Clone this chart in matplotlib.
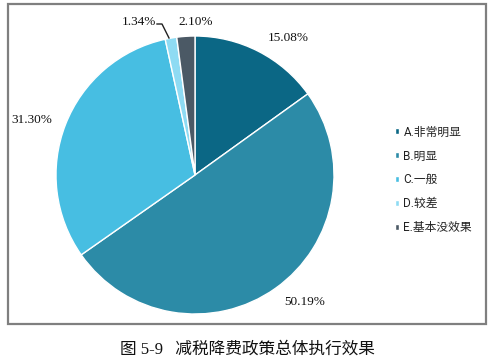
import matplotlib
matplotlib.use("Agg")
import matplotlib.pyplot as plt
from matplotlib.patches import Rectangle

categories = ["A.非常明显", "B.明显", "C.一般", "D.较差", "E.基本没效果"]
values = [15.08, 50.19, 31.30, 1.34, 2.10]
pct_labels = ["15.08%", "50.19%", "31.30%", "1.34%", "2.10%"]
colors = ["#0b6785", "#2c8ba7", "#47bee2", "#8edbf3", "#4b5965"]
caption = "图 5-9   减税降费政策总体执行效果"

W, H = 496, 362
fig = plt.figure(figsize=(W / 100, H / 100), dpi=100)
ax = fig.add_axes([0, 0, 1, 1])
ax.set_xlim(0, W)
ax.set_ylim(0, H)
ax.set_aspect("equal")
ax.axis("off")

def Y(y):
    return H - y

# frame
ax.add_patch(Rectangle((7.5, Y(323.5)), 478.5, 319.5, fill=False,
                       edgecolor="#7f7f7f", linewidth=1.6))

cx, cy, r = 195, Y(175), 139
wedges, _ = ax.pie(values, colors=colors, startangle=90, counterclock=False,
                   center=(cx, cy), radius=r, frame=True,
                   wedgeprops=dict(edgecolor="white", linewidth=1.0))
ax.set_xlim(0, W)
ax.set_ylim(0, H)
ax.axis("off")

serif = ["Liberation Serif", "Noto Sans CJK SC"]
label_pos = [(288, 38), (305, 302), (32, 120), (139, 22), (196, 22)]
for (x, y), t in zip(label_pos, pct_labels):
    ax.text(x, Y(y), t, ha="center", va="center", fontsize=9.5,
            family=serif, color="#111111")

# leader line for D
ax.plot([157, 162, 169], [Y(24), Y(24), Y(38)], color="#222222", lw=1.0)

leg = ax.legend(wedges, categories, loc="upper left",
                bbox_to_anchor=(384 / W, 1 - 115 / H),
                bbox_transform=fig.transFigure,
                frameon=False, handlelength=0.4, handleheight=0.4,
                handletextpad=0.35, labelspacing=0.92,
                prop={"family": ["Roboto", "Noto Sans CJK SC"], "size": 8.5})
for t in leg.get_texts():
    t.set_color("#222222")

fig.text(247 / W, 1 - 350 / H, caption, ha="center", va="center",
         fontsize=12, family=serif, color="#111111")

fig.savefig("out.png", dpi=100)
